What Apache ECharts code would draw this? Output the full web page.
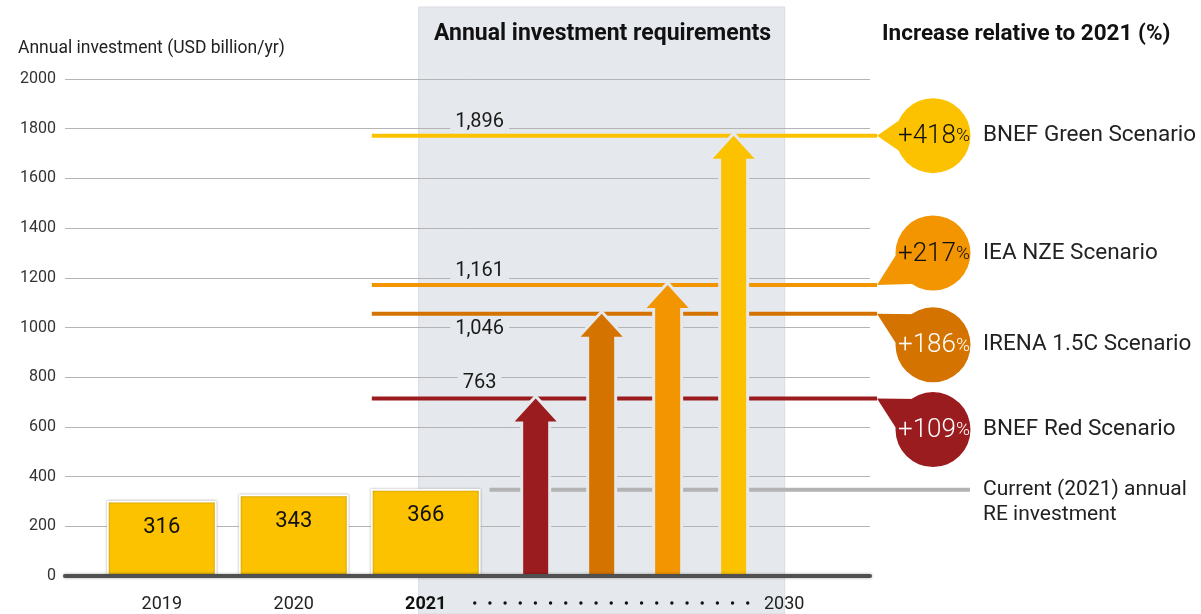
<!DOCTYPE html>
<html><head><meta charset="utf-8">
<script src="https://cdn.jsdelivr.net/npm/echarts@6/dist/echarts.min.js"></script>
<style>html,body{margin:0;padding:0;background:#fff}#c{width:1201px;height:614px}</style>
</head><body><div id="c"></div>
<script>
// ---- data ----
const years = ['2019', '2020', '2021'];
const investment = [304, 329, 351];            // drawn bar heights
const investmentLabels = ['316', '343', '366']; // printed values
const scenarios = ['BNEF Red Scenario', 'IRENA 1.5C Scenario', 'IEA NZE Scenario', 'BNEF Green Scenario'];
const scenarioLevels = [714, 1055, 1171, 1772];  // drawn line levels
const scenarioLabels = ['763', '1,046', '1,161', '1,896'];
const scenarioIncrease = ['+109', '+186', '+217', '+418'];
const currentLevel = 347;
const currentLabel = ['Current (2021) annual', 'RE investment'];
const endYear = '2030';

// ---- styling / layout ----
const FONT = 'Roboto, "Liberation Sans", sans-serif';
const scenarioColors = ['#9b1c1f', '#d57300', '#f29500', '#fcc200'];
const bubbleTextColors = ['#ffffff', '#ffffff', '#111111', '#111111'];
const bubbleDy = [31, 31, -32, 0];
const labelDy = [-16, 15, -14, -14];
const SHADE = '#e5e8ec';
const yearSlot = i => i * 6;
const arrowSlot = i => 17 + i * 3;
const X_MIN = -4.4, X_MAX = 32.2;
const END_SLOT = 28.3;
const LINE_START = 9.55, LABEL_SLOT = 14.45, CURRENT_START = 14.9;
const SHADE_FROM = 11.68, SHADE_TO = 28.32;
const DOTS_FROM = 14.23, DOTS_TO = 26.64, DOT_COUNT = 19;

const chart = echarts.init(document.getElementById('c'), null, {renderer: 'canvas'});

function xLabel(v) {
  for (let i = 0; i < years.length; i++) {
    if (Math.abs(v - yearSlot(i)) < 0.01) return i === 2 ? '{b|' + years[i] + '}' : years[i];
  }
  return endYear;
}

const option = {
  animation: false,
  backgroundColor: '#ffffff',
  textStyle: {fontFamily: FONT},
  title: [
    {text: 'Annual investment (USD billion/yr)', left: 13, top: 35,
     textStyle: {fontFamily: FONT, fontSize: 17.5, fontWeight: 'normal', color: '#222'}},
    {text: 'Annual investment requirements', left: 429, top: 18,
     textStyle: {fontFamily: FONT, fontSize: 23, fontWeight: 'bold', color: '#111'}},
    {text: 'Increase relative to 2021 (%)', left: 877, top: 18,
     textStyle: {fontFamily: FONT, fontSize: 22.5, fontWeight: 'bold', color: '#111'}}
  ],
  grid: {left: 65, right: 331, top: 79, bottom: 38, containLabel: false},
  xAxis: {
    type: 'value', min: X_MIN, max: X_MAX, z: 10,
    splitLine: {show: false},
    axisTick: {show: false},
    axisLine: {show: true, onZero: true,
      lineStyle: {color: '#505050', width: 4, shadowColor: 'rgba(0,0,0,0.35)', shadowBlur: 3}},
    axisLabel: {
      customValues: [yearSlot(0), yearSlot(1), yearSlot(2), END_SLOT],
      formatter: xLabel,
      fontFamily: FONT, fontSize: 18, color: '#222', margin: 19,
      rich: {b: {fontFamily: FONT, fontSize: 18, fontWeight: 'bold', color: '#111'}}
    }
  },
  yAxis: {
    type: 'value', min: 0, max: 2000, interval: 200,
    axisLine: {show: false}, axisTick: {show: false},
    axisLabel: {fontFamily: FONT, fontSize: 16, color: '#333', margin: 9, formatter: v => String(v)},
    splitLine: {lineStyle: {color: '#b4b4b4', width: 1}}
  },
  series: [
    { // shaded 2021-2030 band
      type: 'custom', z: -1, clip: false, silent: true,
      data: [[0]],
      renderItem: (p, api) => {
        const x0 = api.coord([SHADE_FROM, 0])[0], x1 = api.coord([SHADE_TO, 0])[0];
        return {type: 'rect', shape: {x: x0, y: 7, width: x1 - x0, height: api.getHeight() - 7},
          style: {fill: SHADE, stroke: '#d9dce1', lineWidth: 1}};
      }
    },
    { // current 2021 reference line
      type: 'custom', z: 2, clip: false, silent: true,
      data: [[CURRENT_START, currentLevel]],
      renderItem: (p, api) => {
        const a = api.coord([api.value(0), api.value(1)]);
        const b = api.coord([X_MAX, api.value(1)]);
        return {type: 'group', children: [
          {type: 'line', shape: {x1: a[0], y1: a[1], x2: b[0] + 100, y2: a[1]},
           style: {stroke: '#b3b3b3', lineWidth: 4}},
          {type: 'text', style: {x: b[0] + 113, y: a[1] - 13, text: currentLabel.join('\n'),
           fontFamily: FONT, fontSize: 21, lineHeight: 25, fill: '#222', align: 'left', verticalAlign: 'top'}}
        ]};
      }
    },
    { // scenario level lines + bubbles
      type: 'custom', z: 3, clip: false, silent: true,
      data: scenarioLevels.map((v, i) => [LINE_START, v, i]),
      renderItem: (p, api) => {
        const i = api.value(2);
        const a = api.coord([api.value(0), api.value(1)]);
        const b = api.coord([X_MAX, api.value(1)]);
        const tipX = b[0] + 7, tipY = b[1];
        const cx = b[0] + 63, cy = b[1] + bubbleDy[i], r = 37.5;
        const ang = Math.atan2(tipY - cy, tipX - cx);
        const s = 0.62;
        const p1 = [cx + r * 0.9 * Math.cos(ang - s), cy + r * 0.9 * Math.sin(ang - s)];
        const p2 = [cx + r * 0.9 * Math.cos(ang + s), cy + r * 0.9 * Math.sin(ang + s)];
        const col = scenarioColors[i], tc = bubbleTextColors[i];
        return {type: 'group', children: [
          {type: 'line', shape: {x1: a[0], y1: a[1], x2: tipX, y2: a[1]},
           style: {stroke: col, lineWidth: 4}},
          {type: 'polygon', shape: {points: [[tipX, tipY], p1, p2]}, style: {fill: col}},
          {type: 'circle', shape: {cx: cx, cy: cy, r: r}, style: {fill: col}},
          {type: 'text', style: {x: cx + 1, y: cy + 1, text: '{n|' + scenarioIncrease[i] + '}{p|%}',
            align: 'center', verticalAlign: 'middle',
            rich: {n: {fontFamily: FONT, fontSize: 26, fontWeight: 300, fill: tc},
                   p: {fontFamily: FONT, fontSize: 19, fontWeight: 300, fill: tc}}}},
          {type: 'text', style: {x: cx + 50, y: cy, text: scenarios[i], fontFamily: FONT, fontSize: 22.5,
            fill: '#222', align: 'left', verticalAlign: 'middle'}}
        ]};
      }
    },
    { // historical bars
      type: 'bar', z: 4, barWidth: 110,
      data: investment.map((v, i) => [yearSlot(i), v]),
      itemStyle: {color: '#fcc200', borderColor: '#ffffff', borderWidth: 2,
        shadowColor: 'rgba(0,0,0,0.35)', shadowBlur: 2},
      label: {show: true, position: 'insideTop', distance: 16,
        formatter: p => investmentLabels[p.dataIndex],
        fontFamily: FONT, fontSize: 22, color: '#111'}
    },
    { // arrows
      type: 'custom', z: 5, clip: false, silent: true,
      data: scenarioLevels.map((v, i) => [arrowSlot(i), v, i]),
      renderItem: (p, api) => {
        const i = api.value(2);
        const base = api.coord([api.value(0), 0]);
        const tip = api.coord([api.value(0), api.value(1)]);
        const x = tip[0], sh = 12.5, hh = 21, hl = 23;
        const pts = [[x - sh, base[1]], [x - sh, tip[1] + hl], [x - hh, tip[1] + hl], [x, tip[1]],
                     [x + hh, tip[1] + hl], [x + sh, tip[1] + hl], [x + sh, base[1]]];
        return {type: 'group', children: [
          {type: 'polygon', shape: {points: pts},
           style: {fill: SHADE, stroke: SHADE, lineWidth: 6, lineJoin: 'miter'}},
          {type: 'polygon', shape: {points: pts}, style: {fill: scenarioColors[i]}}
        ]};
      }
    },
    { // scenario value labels
      type: 'custom', z: 6, clip: false, silent: true,
      data: scenarioLevels.map((v, i) => [LABEL_SLOT, v, i]),
      renderItem: (p, api) => {
        const i = api.value(2);
        const c = api.coord([api.value(0), api.value(1)]);
        return {type: 'text', style: {x: c[0], y: c[1] + labelDy[i], text: scenarioLabels[i],
          fontFamily: FONT, fontSize: 20, fill: '#1a1a1a', align: 'center', verticalAlign: 'middle',
          backgroundColor: SHADE, padding: [0, 5]}};
      }
    },
    { // dotted timeline between 2021 and 2030
      type: 'custom', z: 6, clip: false, silent: true,
      data: [[0]],
      renderItem: (p, api) => {
        const y = api.coord([0, 0])[1] + 27;
        const x0 = api.coord([DOTS_FROM, 0])[0], x1 = api.coord([DOTS_TO, 0])[0];
        const kids = [];
        for (let k = 0; k < DOT_COUNT; k++) {
          const x = x0 + (x1 - x0) * k / (DOT_COUNT - 1);
          kids.push({type: 'circle', shape: {cx: x, cy: y, r: 1.7}, style: {fill: '#111'}});
        }
        return {type: 'group', children: kids};
      }
    }
  ]
};
chart.setOption(option);
</script>
</body></html>
